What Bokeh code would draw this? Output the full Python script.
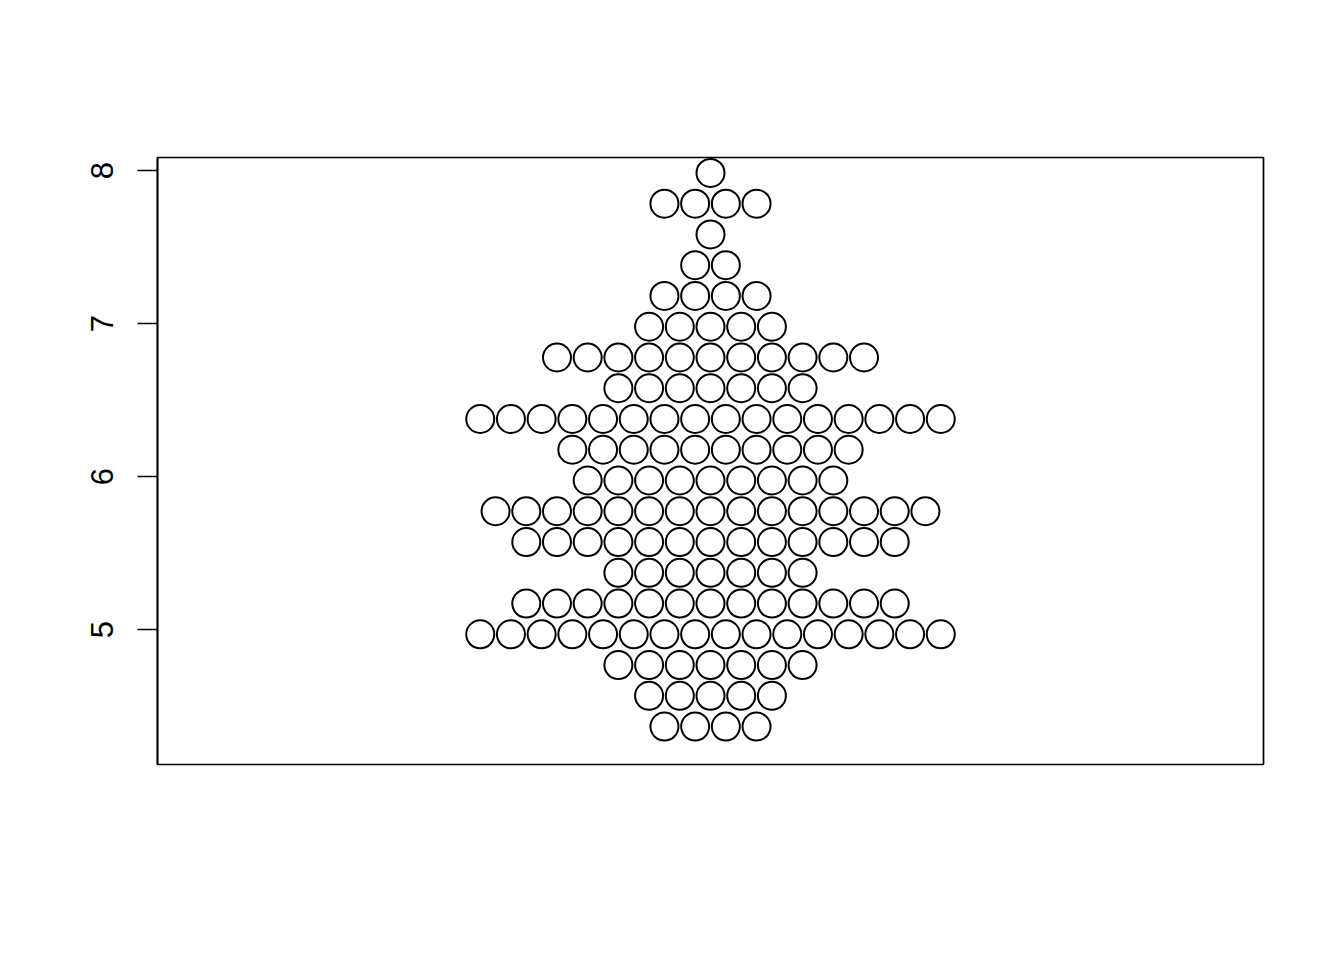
from bokeh.plotting import figure
from bokeh.models import Range1d, FixedTicker
from bokeh.embed import file_html
from bokeh.resources import INLINE

# Binned rows of the swarm (iris Sepal.Length, bins of 0.2)
row_y = [4.366, 4.567, 4.768, 4.969, 5.170, 5.371, 5.572, 5.773, 5.974, 6.175,
         6.376, 6.577, 6.778, 6.979, 7.180, 7.381, 7.582, 7.783, 7.984]
row_counts = [4, 5, 7, 16, 13, 7, 13, 15, 9, 10, 16, 7, 11, 5, 4, 2, 1, 4, 1]
y_ticks = [5, 6, 7, 8]

center_x = 1.0
dx = 0.02776  # horizontal spacing between neighbouring points (data units)

xs, ys = [], []
for yv, n in zip(row_y, row_counts):
    for i in range(n):
        xs.append(center_x + (i - (n - 1) / 2) * dx)
        ys.append(yv)

p = figure(width=1336, height=952, output_backend="svg", toolbar_location=None,
           x_range=Range1d(0.5, 1.5), y_range=Range1d(4.118, 8.085),
           min_border_left=157, min_border_right=73, min_border_top=157,
           min_border_bottom=188)

p.scatter(xs, ys, marker="circle", size=28, fill_color="white",
          line_color="black", line_width=2.0)

p.xaxis.visible = False
p.xgrid.visible = False
p.ygrid.visible = False
p.outline_line_color = "black"
p.outline_line_width = 1.7
p.background_fill_color = "white"
p.border_fill_color = "white"

ya = p.yaxis[0]
ya.ticker = FixedTicker(ticks=y_ticks)
ya.minor_tick_line_color = None
ya.major_tick_in = 0
ya.major_tick_out = 20
ya.major_tick_line_width = 1.7
ya.axis_line_width = 1.7
ya.major_label_orientation = "vertical"
ya.major_label_standoff = 24
ya.major_label_text_font = "Liberation Sans"
ya.major_label_text_font_size = "31px"
ya.major_label_text_color = "black"

open("out.html", "w").write(file_html(p, INLINE))
